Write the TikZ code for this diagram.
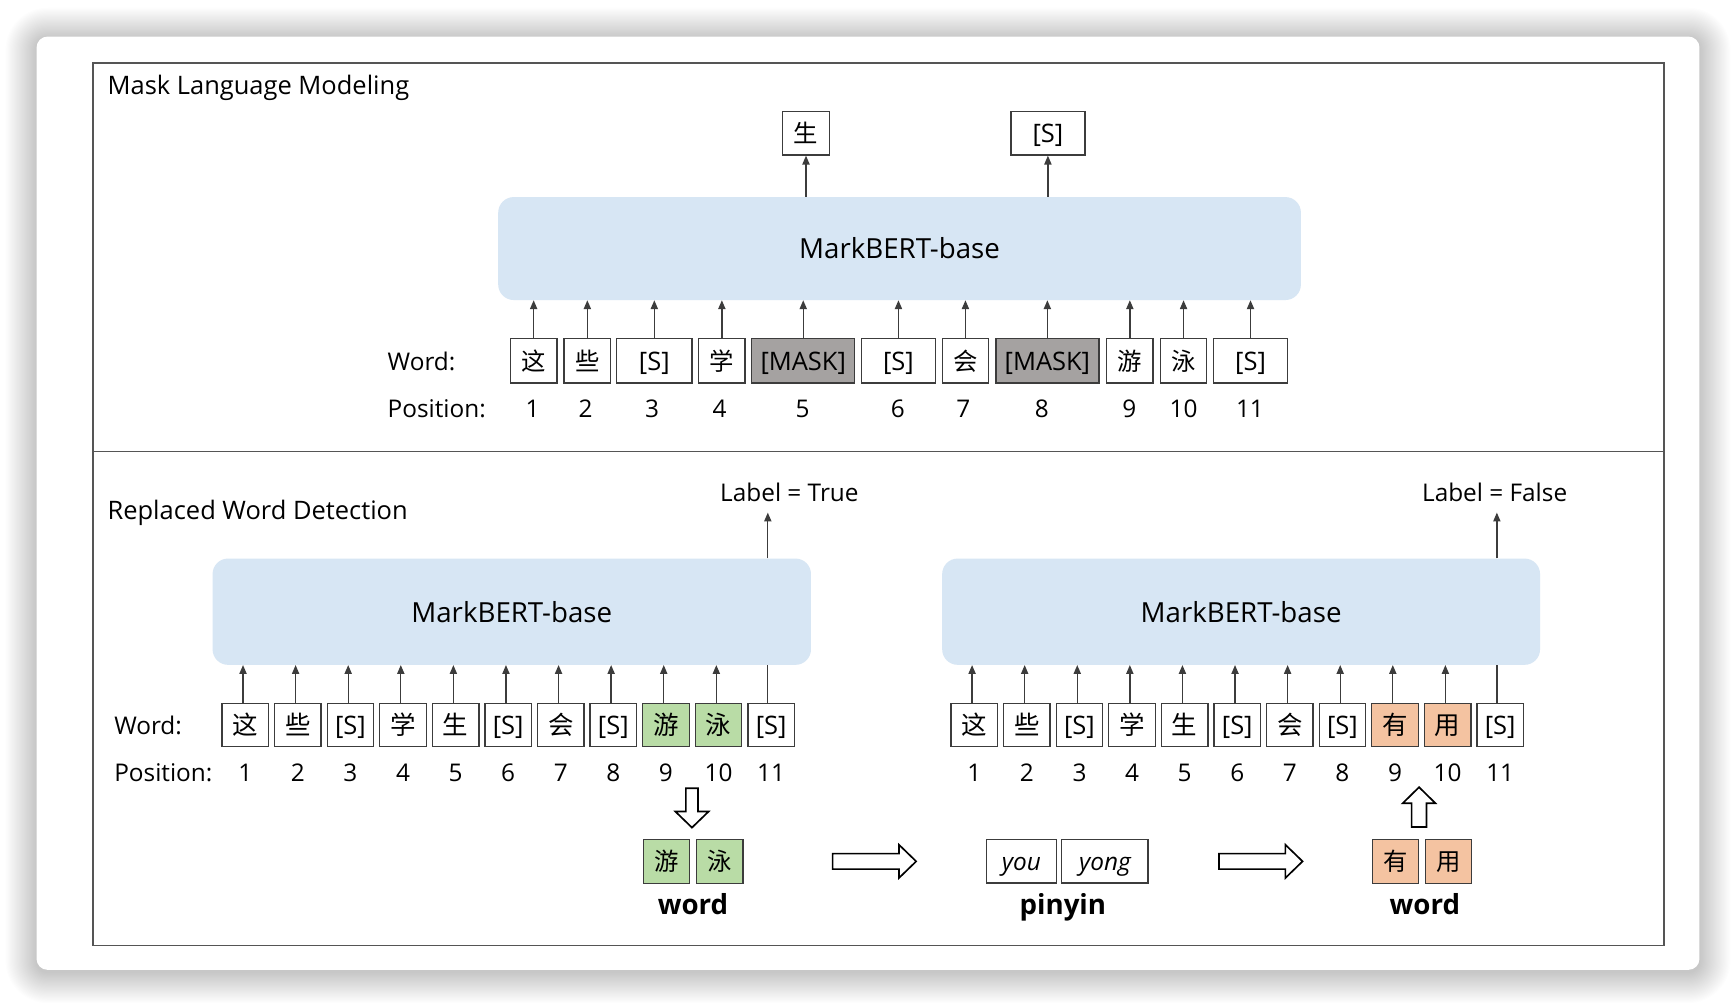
\documentclass[tikz,border=0pt]{standalone}
\usepackage{fontspec}
\setmainfont{Open Sans}
\newfontfamily\cjk{Noto Sans CJK SC}
\usetikzlibrary{arrows.meta}
\definecolor{bertblue}{HTML}{D7E6F4}
\definecolor{maskgray}{HTML}{A5A2A1}
\definecolor{wgreen}{HTML}{B9DCA6}
\definecolor{worange}{HTML}{F4C3A1}
\definecolor{edgec}{HTML}{3C3C3C}
\definecolor{framec}{HTML}{555555}
\newcommand\myfs[1]{\fontsize{#1}{#1}\selectfont}
\tikzset{
  tok/.style={draw=edgec, line width=1.2pt, minimum height=40pt, minimum width=42pt, inner sep=0pt, text height=16.5pt, text depth=0pt, font=\myfs{23}, text=black},
  tokb/.style={tok, minimum height=39pt},
  bert/.style={fill=bertblue, rounded corners=14pt, draw=none, inner sep=0pt, font=\myfs{25}},
  lbl/.style={font=\myfs{22}, inner sep=0pt},
  num/.style={font=\myfs{22}, inner sep=0pt},
  bold/.style={font=\myfs{25}\bfseries, inner sep=0pt},
  arr/.style={draw=edgec, line width=1.2pt, -{Triangle[width=6.5pt,length=8pt]}},
  plain/.style={draw=edgec, line width=1.2pt},
  hollow/.style={draw=black, line width=1.5pt, fill=white, line join=miter},
}
\begin{document}
\begin{tikzpicture}[x=1pt,y=-1pt]
\useasboundingbox (0,0) rectangle (1568,909);
\fill[white] (0,0) rectangle (1568,909);
% shadow
\foreach \i in {1,...,28}{
  \pgfmathsetmacro\rr{10+\i}
  \fill[black,opacity=0.009,rounded corners=\rr pt] ({33-\i},{35-\i}) rectangle ({1535+\i},{878+\i});
}
\fill[white,rounded corners=10pt] (33,33) rectangle (1535,876);
% frame
\draw[framec, line width=1.3pt] (84,57) rectangle (1503,854);
\draw[framec, line width=1.3pt] (84,408) -- (1503,408);

% ---------- top: Mask Language Modeling ----------
\node[lbl, font=\myfs{23}, anchor=base west] (ttl1) at (97,85) {Mask Language Modeling};
\node[bert, minimum width=725pt, minimum height=93pt] (mb) at (812.5,224.5) {MarkBERT-base};
\node[tokb, font=\cjk\myfs{22}] (o1) at (728,120.5) {生};
\node[tokb, minimum width=67pt] (o2) at (946.5,120.5) {[S]};
\draw[arr] (o1 |- mb.north) -- (o1.south);
\draw[arr] (o2 |- mb.north) -- (o2.south);

\node[tok, font=\cjk\myfs{22}] (t1) at (482,326) {这};
\node[tok, font=\cjk\myfs{22}] (t2) at (530.5,326) {些};
\node[tok, minimum width=68pt] (t3) at (591,326) {[S]};
\node[tok, font=\cjk\myfs{22}] (t4) at (652,326) {学};
\node[tok, minimum width=93pt, fill=maskgray] (t5) at (725.5,326) {[MASK]};
\node[tok, minimum width=67pt] (t6) at (811.5,326) {[S]};
\node[tok, font=\cjk\myfs{22}] (t7) at (872,326) {会};
\node[tok, minimum width=93pt, fill=maskgray] (t8) at (946,326) {[MASK]};
\node[tok, font=\cjk\myfs{22}] (t9) at (1020.5,326) {游};
\node[tok, font=\cjk\myfs{22}] (t10) at (1069,326) {泳};
\node[tok, minimum width=67pt] (t11) at (1129.5,326) {[S]};
\foreach \i in {1,...,11}{
  \draw[arr] (t\i.north) -- (t\i |- mb.south);
}
\node[lbl, anchor=west] (w1) at (350,326) {Word:};
\node[lbl, anchor=west] (p1) at (350,369) {Position:};
\foreach \i/\x in {1/481,2/529,3/589,4/650,5/725,6/811,7/870,8/941,9/1020,10/1069,11/1129}{
  \node[num] (tn\i) at (\x,369) {\i};
}

% ---------- bottom: Replaced Word Detection ----------
\node[lbl, font=\myfs{23}, anchor=base west] (ttl2) at (97,469) {Replaced Word Detection};
\node[bert, minimum width=540.5pt, minimum height=96pt] (mbl) at (462.25,552.5) {MarkBERT-base};
\node[bert, minimum width=540pt, minimum height=96pt] (mbr) at (1121,552.5) {MarkBERT-base};

\foreach \i/\t/\c in {1/\cjk 这/white, 2/\cjk 些/white, 3/[S]/white, 4/\cjk 学/white, 5/\cjk 生/white, 6/[S]/white, 7/\cjk 会/white, 8/[S]/white, 9/\cjk 游/wgreen, 10/\cjk 泳/wgreen, 11/[S]/white}{
  \node[tokb, fill=\c] (l\i) at ({221.5+47.5*(\i-1)},655) {\t};
  \node[num] (ln\i) at ({221.5+47.5*(\i-1)},698) {\i};
}
\foreach \i/\t/\c in {1/\cjk 这/white, 2/\cjk 些/white, 3/[S]/white, 4/\cjk 学/white, 5/\cjk 生/white, 6/[S]/white, 7/\cjk 会/white, 8/[S]/white, 9/\cjk 有/worange, 10/\cjk 用/worange, 11/[S]/white}{
  \node[tokb, fill=\c] (r\i) at ({880+47.5*(\i-1)},655) {\t};
  \node[num] (rn\i) at ({880+47.5*(\i-1)},698) {\i};
}
\foreach \i in {1,...,10}{
  \draw[arr] ([xshift=-2pt]l\i.north) -- ([xshift=-2pt]l\i.north |- mbl.south);
  \draw[arr] ([xshift=-2pt]r\i.north) -- ([xshift=-2pt]r\i.north |- mbr.south);
}
\draw[plain] ([xshift=-3pt]l11.north) -- ([xshift=-3pt]l11.north |- mbl.south);
\draw[plain] ([xshift=-3pt]r11.north) -- ([xshift=-3pt]r11.north |- mbr.south);

\node[lbl] (labT) at (713,445) {Label = True};
\node[lbl] (labF) at (1350,445) {Label = False};
\draw[arr] ([xshift=-3pt]l11.north |- mbl.north) -- ([xshift=-3pt]l11.north |- 0,463);
\draw[arr] ([xshift=-3pt]r11.north |- mbr.north) -- ([xshift=-3pt]r11.north |- 0,463);

\node[lbl, anchor=west] (w2) at (103,655) {Word:};
\node[lbl, anchor=west] (p2) at (103,698) {Position:};

% lower row: word -> pinyin -> word
\node[tokb, fill=wgreen, minimum height=40pt, font=\cjk\myfs{22}] (g1) at (602,778) {游};
\node[tokb, fill=wgreen, minimum height=40pt, font=\cjk\myfs{22}] (g2) at (650,778) {泳};
\node[bold, anchor=base] (wd1) at (626,826) {word};

\node[tokb, minimum height=39pt, minimum width=63pt, font=\myfs{22}\itshape] (py1) at (922.5,778) {you};
\node[tokb, minimum height=39pt, minimum width=78pt, font=\myfs{22}\itshape] (py2) at (998,778) {yong};
\node[bold, anchor=base] (wd2) at (960,826) {pinyin};

\node[tokb, fill=worange, minimum height=40pt, font=\cjk\myfs{22}] (h1) at (1260.5,778) {有};
\node[tokb, fill=worange, minimum height=40pt, font=\cjk\myfs{22}] (h2) at (1308.3,778) {用};
\node[bold, anchor=base] (wd3) at (1287,826) {word};

% hollow arrows
\draw[hollow] (619.5,712) -- (630.5,712) -- (630.5,733) -- (640,733) -- (625,747.5) -- (610,733) -- (619.5,733) -- cycle;
\draw[hollow] (752,771) -- (812,771) -- (812,763) -- (827.5,778) -- (812,793) -- (812,785) -- (752,785) -- cycle;
\draw[hollow] (1101,771) -- (1161,771) -- (1161,763) -- (1176.5,778) -- (1161,793) -- (1161,785) -- (1101,785) -- cycle;
\draw[hollow] (1275,747) -- (1288.5,747) -- (1288.5,725.5) -- (1296.5,725.5) -- (1281.7,711) -- (1267,725.5) -- (1275,725.5) -- cycle;
\end{tikzpicture}
\end{document}
